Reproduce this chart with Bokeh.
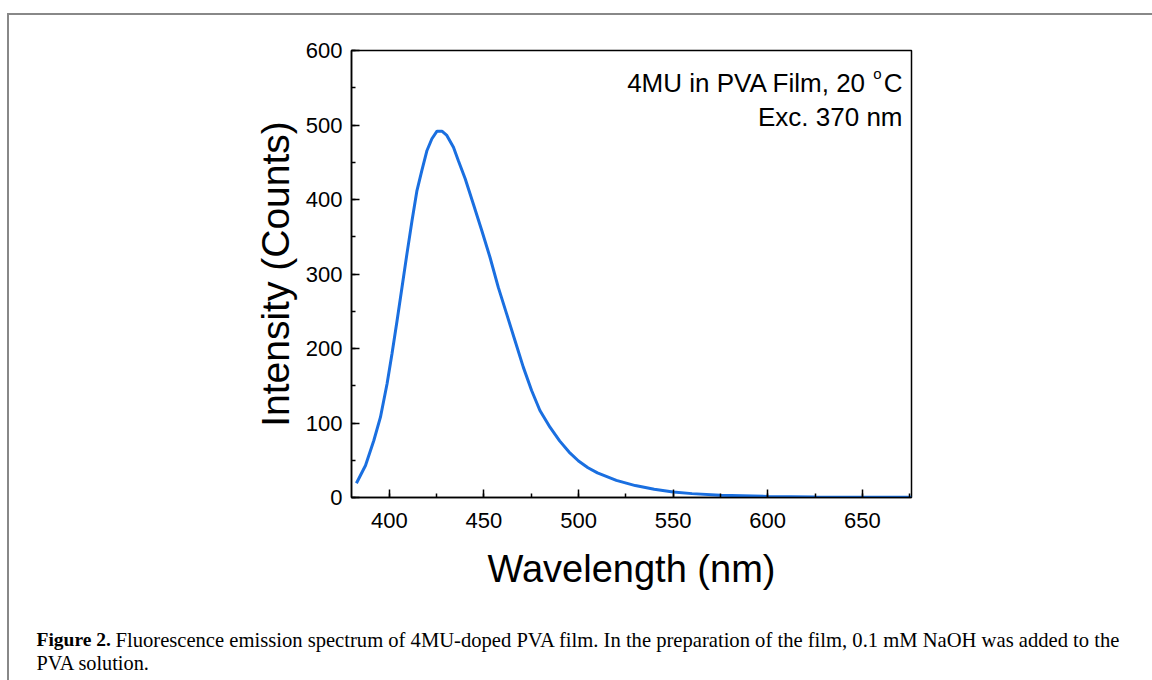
from bokeh.plotting import figure
from bokeh.layouts import column
from bokeh.models import Label, SingleIntervalTicker, Range1d
from bokeh.embed import file_html
from bokeh.resources import INLINE

# ---- data ----
wavelength = [382.6, 387.4, 391.8, 395.3, 398.8, 401.4, 404.1, 406.7, 409.3, 412.0,
              414.6, 417.2, 419.9, 422.5, 425.2, 427.8, 430.4, 433.9, 436.5, 440.1,
              444.4, 448.9, 453.2, 457.6, 462.0, 466.4, 470.8, 475.2, 479.6, 485.0,
              490.0, 495.0, 500.0, 505.0, 510.0, 520.0, 530.0, 540.0, 550.0, 560.0,
              575.0, 600.0, 625.0, 650.0, 676.0]
intensity = [19.2, 43.0, 76.5, 107.8, 152.6, 192.9, 237.6, 282.3, 327.0, 371.8,
             412.0, 439.0, 465.8, 481.5, 491.7, 491.7, 486.0, 470.0, 452.0, 427.8,
             394.0, 358.0, 322.5, 282.0, 246.5, 210.7, 175.0, 143.6, 116.8, 94.0,
             76.0, 61.0, 49.0, 40.0, 33.0, 23.0, 16.0, 11.0, 7.5, 5.2,
             3.0, 1.4, 0.8, 0.5, 0.3]

x_label = "Wavelength (nm)"
y_label = "Intensity (Counts)"
annot_line1 = "4MU in PVA Film, 20"
annot_sup = "o"
annot_unit = "C"
annot_line2 = "Exc. 370 nm"
caption_bold = "Figure 2."
caption_rest = "Fluorescence emission spectrum of 4MU-doped PVA film. In the preparation of the film, 0.1 mM NaOH was added to the"
caption_line2 = "PVA solution."

W, H = 1152, 680
OX, OY = 9, 15            # page offset of the content inside the grey frame
SPLIT = 600               # page y where the caption strip starts
FL, FR, FT, FB = 351, 911, 50, 497  # frame edges in page pixels

p = figure(width=W - OX, height=SPLIT - OY, output_backend="svg", toolbar_location=None,
           x_range=Range1d(380, 676), y_range=Range1d(0, 600),
           min_border_left=FL - OX, min_border_right=W - FR,
           min_border_top=FT - OY, min_border_bottom=SPLIT - FB,
           frame_align=False)
p.background_fill_color = "white"
p.border_fill_color = "white"
p.grid.visible = False
p.outline_line_color = "black"
p.outline_line_width = 1.5

p.line(wavelength, intensity, line_color="#1a6fe0", line_width=3)

FONT = "Liberation Sans"
for ax in (p.xaxis[0], p.yaxis[0]):
    ax.axis_line_color = "black"
    ax.axis_line_width = 1.5
    ax.major_tick_in = 8
    ax.major_tick_out = 0
    ax.minor_tick_in = 4
    ax.minor_tick_out = 0
    ax.major_tick_line_width = 1.5
    ax.minor_tick_line_width = 1.5
    ax.major_label_text_font = FONT
    ax.major_label_text_font_size = "22px"
    ax.major_label_text_color = "black"
    ax.axis_label_text_font = FONT
    ax.axis_label_text_font_style = "normal"
    ax.axis_label_text_color = "black"

p.xaxis[0].axis_label_text_font_size = "38px"
p.yaxis[0].axis_label_text_font_size = "39px"
p.xaxis[0].ticker = SingleIntervalTicker(interval=50, num_minor_ticks=2)
p.yaxis[0].ticker = SingleIntervalTicker(interval=100, num_minor_ticks=2)
p.xaxis[0].axis_label = x_label
p.yaxis[0].axis_label = y_label
p.xaxis[0].major_label_standoff = 15
p.yaxis[0].major_label_standoff = 9
p.xaxis[0].axis_label_standoff = 17
p.yaxis[0].axis_label_standoff = 6


def plab(fig, text, x, y, size, align="left", font=FONT, style="normal"):
    fig.add_layout(Label(x=x - FL, y=FB - y, x_units="screen", y_units="screen",
                         text=text, text_font=font, text_font_size=size,
                         text_font_style=style, text_align=align,
                         text_baseline="alphabetic", text_color="black"))


plab(p, annot_line1, 866, 82, "26px", align="right")
plab(p, annot_sup, 881, 73, "15px", align="right")
plab(p, annot_unit, 902, 82, "26px", align="right")
plab(p, annot_line2, 902, 116, "26px", align="right")

# ---- caption strip ----
cap = figure(width=W - OX, height=H - SPLIT, output_backend="svg", toolbar_location=None,
             x_range=Range1d(OX, W), y_range=Range1d(H, SPLIT),
             min_border=0, min_border_left=0, min_border_right=0,
             min_border_top=0, min_border_bottom=0, frame_align=False)
cap.axis.visible = False
cap.grid.visible = False
cap.outline_line_color = None
cap.background_fill_color = "white"
cap.border_fill_color = "white"

SERIF = "Liberation Serif"


def clab(text, x, y, size, style="normal"):
    cap.add_layout(Label(x=x, y=y, text=text, text_font=SERIF, text_font_size=size,
                         text_font_style=style, text_align="left",
                         text_baseline="alphabetic", text_color="black"))


clab(caption_bold, 36, 639, "19.5px", style="bold")
clab(caption_rest, 115, 639, "20.6px")
clab(caption_line2, 36, 662, "20.3px")

lay = column(p, cap, spacing=0,
             styles={"margin-left": "7px", "margin-top": "13px",
                     "border-left": "2px solid #888888",
                     "border-top": "2px solid #888888"})

open("out.html", "w").write(file_html(lay, INLINE))
